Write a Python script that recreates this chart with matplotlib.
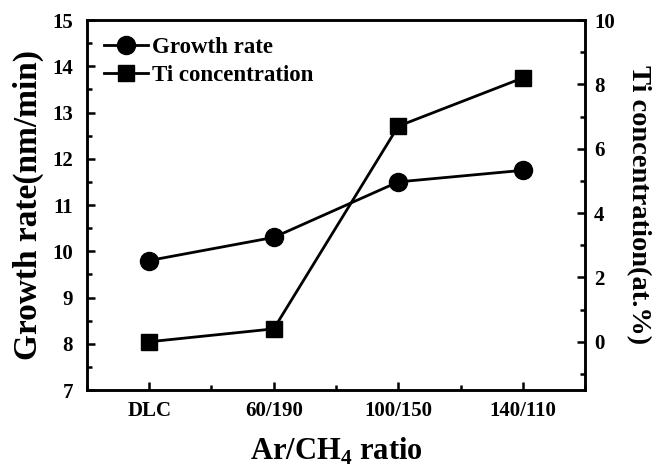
import matplotlib
matplotlib.use('Agg')
import matplotlib.pyplot as plt
from matplotlib.ticker import MultipleLocator

plt.rcParams['font.family'] = ['Liberation Serif', 'DejaVu Serif']
plt.rcParams['font.weight'] = 'bold'
plt.rcParams['mathtext.fontset'] = 'custom'
plt.rcParams['mathtext.rm'] = 'Liberation Serif:bold'
plt.rcParams['mathtext.bf'] = 'Liberation Serif:bold'

# data
ratios = ['DLC', '60/190', '100/150', '140/110']
growth_rate = [9.8, 10.3, 11.5, 11.75]
ti_conc = [0.0, 0.4, 6.7, 8.2]

x = list(range(len(ratios)))

fig = plt.figure(figsize=(6.56, 4.70), dpi=100)
ax = fig.add_axes([0.1326, 0.1702, 0.7592, 0.7872])
ax2 = ax.twinx()

l1, = ax.plot(x, growth_rate, color='black', lw=2, marker='o', ms=13,
              label='Growth rate')
l2, = ax2.plot(x, ti_conc, color='black', lw=2, marker='s', ms=12,
               label='Ti concentration')

ax.set_xlim(-0.5, 3.5)
ax.set_ylim(7, 15)
ax2.set_ylim(-1.5, 10)

ax.set_xticks(x)
ax.set_xticklabels(ratios)
ax.xaxis.set_minor_locator(MultipleLocator(0.5))
ax.yaxis.set_major_locator(MultipleLocator(1))
ax.yaxis.set_minor_locator(MultipleLocator(0.5))
ax2.yaxis.set_major_locator(MultipleLocator(2))
ax2.yaxis.set_minor_locator(MultipleLocator(1))

for a in (ax, ax2):
    for s in a.spines.values():
        s.set_linewidth(1.8)
    a.tick_params(which='major', direction='in', length=6, width=1.8,
                  labelsize=15)
    a.tick_params(which='minor', direction='in', length=3.5, width=1.8)
ax.tick_params(axis='x', which='both', top=False, pad=8)
ax.tick_params(axis='y', which='both', right=False, pad=10)
ax2.tick_params(axis='y', which='both', left=False, pad=6.5)

ax.set_xlabel('Ar/CH$_4$ ratio', fontsize=22, fontweight='bold', labelpad=11)
ax.set_ylabel('Growth rate(nm/min)', fontsize=24, fontweight='bold', labelpad=6)
ax2.set_ylabel('Ti concentration(at.%)', fontsize=20.5, fontweight='bold',
               rotation=270, labelpad=26)

ax.legend([l1, l2], ['Growth rate', 'Ti concentration'], loc='upper left',
          frameon=False, fontsize=16.5, handlelength=1.9, borderaxespad=0.4,
          labelspacing=0.3, handletextpad=0.2, borderpad=0.35)

fig.savefig('out.png', dpi=100)
